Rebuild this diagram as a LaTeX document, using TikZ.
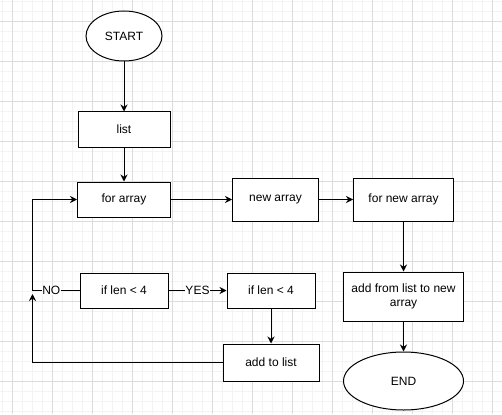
\documentclass[tikz,border=0pt]{standalone}
\usepackage{fontspec}
\setsansfont{Liberation Sans}
\usepackage{tikz}
\usetikzlibrary{arrows.meta,positioning,shapes.geometric}
\usepackage{xcolor}
\definecolor{ink}{HTML}{000000}
\definecolor{minorgrid}{HTML}{F3F3F3}
\definecolor{majorgrid}{HTML}{DCDCDC}
\tikzset{
  base/.style={font=\sffamily\fontsize{12}{14}\selectfont,align=center,draw=ink,line width=1pt,fill=white,inner sep=2pt},
  box/.style={base,rectangle},
  term/.style={base,ellipse,inner sep=0pt},
  flow/.style={-{Stealth[length=7pt,width=7pt]},line width=1pt,draw=ink},
  lbl/.style={font=\sffamily\fontsize{12}{14}\selectfont,fill=white,inner sep=0.5pt},
  every node/.style={font=\sffamily\fontsize{12}{14}\selectfont}
}

\begin{document}
\begin{tikzpicture}[x=1pt,y=1pt,node distance=35pt and 34pt]
\useasboundingbox (0,0) rectangle (502,-414);
\fill[white] (0,0) rectangle (502,-414);
% background grid
\foreach \gx in {2,12,...,502} \draw[minorgrid,line width=0.6pt] (\gx,0) -- (\gx,-414);
\foreach \gy in {1.5,11.5,...,411.5} \draw[minorgrid,line width=0.6pt] (0,-\gy) -- (502,-\gy);
\foreach \gx in {12,52,...,492} \draw[majorgrid,line width=0.7pt] (\gx,0) -- (\gx,-414);
\foreach \gy in {21.5,61.5,...,401.5} \draw[majorgrid,line width=0.7pt] (0,-\gy) -- (502,-\gy);

\node[term,minimum width=76pt,minimum height=50pt] (start) at (124,-36) {START};
\node[box,minimum width=92pt,minimum height=35pt,below=50pt of start] (list) {list};
\node[box,minimum width=93pt,minimum height=35pt,below=34pt of list] (forarr) {for array};
\node[box,minimum width=86pt,minimum height=43pt,right=61pt of forarr] (newarr) {new array};
\node[box,minimum width=100pt,minimum height=43pt,right=34pt of newarr] (fornew) {for new array};
\node[box,minimum width=120pt,minimum height=49pt,below=50pt of fornew] (addfrom) {add from list to new\\array};
\node[term,minimum width=120pt,minimum height=58pt,below=30pt of addfrom] (end) {END};

\node[box,minimum width=88pt,minimum height=35pt,below=55pt of forarr] (ifshort) {if len \textless{} 4};
\node[box,minimum width=88pt,minimum height=35pt,right=58pt of ifshort] (ifcheck) {if len \textless{} 4};
\node[box,minimum width=96pt,minimum height=37pt,below=35pt of ifcheck] (addlist) {add to list};

\coordinate[left=47pt of ifshort.west] (nocorner);
\coordinate[below=3.5pt of nocorner] (noback);

\draw[flow] (start) -- (list);
\draw[flow] (list) -- (forarr);
\draw[flow] (forarr) -- (newarr);
\draw[flow] (newarr) -- (fornew);
\draw[flow] (fornew) -- (addfrom);
\draw[flow] (addfrom) -- (end);
\draw[flow] (ifshort) -- node[lbl]{YES} (ifcheck);
\draw[flow] (ifcheck) -- (addlist);
\draw[flow] (ifshort.west) -- node[lbl,pos=0.6]{NO} (nocorner) |- (forarr.west);
\draw[flow] (addlist.west) -| (noback);
\end{tikzpicture}
\end{document}
